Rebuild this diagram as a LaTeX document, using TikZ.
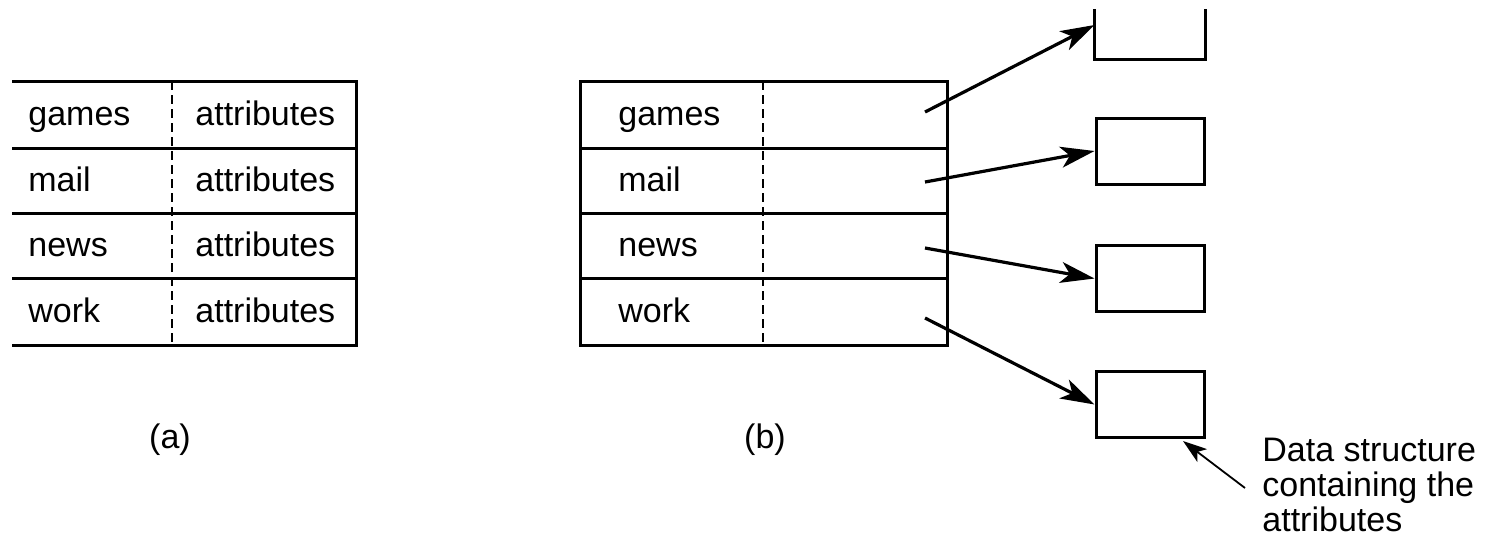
\documentclass[tikz,border=0pt]{standalone}
\usepackage{fontspec}
\setmainfont{Liberation Sans}
\usetikzlibrary{arrows.meta}

\begin{document}
\begin{tikzpicture}[x=0.5pt,y=-0.5pt,
  every node/.style={font=\fontsize{17}{17.5}\selectfont},
  txt/.style={anchor=base west,inner sep=0pt},
  rule/.style={line width=1.5pt},
  split/.style={line width=0.9pt,dash pattern=on 4.5pt off 2.5pt},
  slot/.style={draw,line width=1.5pt,minimum width=54pt,minimum height=33pt,inner sep=0pt},
  ptr/.style={-{Stealth[length=17pt,width=10.5pt,inset=4.5pt]},line width=1.6pt},
  thin/.style={-{Stealth[length=12pt,width=8pt,inset=3pt]},line width=0.9pt}]

  \useasboundingbox (0,0) rectangle (1487,543);

  % (a) directory with attributes in the entry
  \draw [rule] (12,81) -- (356,81) -- (356,345) -- (12,345);
  \draw [rule] (12,148) -- (356,148);
  \draw [rule] (12,213) -- (356,213);
  \draw [rule] (12,278) -- (356,278);
  \draw [split] (172,81) -- (172,345);

  \node [txt] (a1) at (28,125.5) {games};
  \node [txt] (a2) at (28,191.5) {mail};
  \node [txt] (a3) at (28,256.5) {news};
  \node [txt] (a4) at (28,322.5) {work};
  \node [txt] (t1) at (195,125.5) {attributes};
  \node [txt] (t2) at (195,191.5) {attributes};
  \node [txt] (t3) at (195,256.5) {attributes};
  \node [txt] (t4) at (195,322.5) {attributes};
  \node (la) at (170,440) {(a)};

  % (b) directory with pointers
  \draw [rule] (580,81) rectangle (947,345);
  \draw [rule] (580,148) -- (947,148);
  \draw [rule] (580,213) -- (947,213);
  \draw [rule] (580,278) -- (947,278);
  \draw [split] (763,81) -- (763,345);

  \node [txt] (b1) at (618,125.5) {games};
  \node [txt] (b2) at (618,191.5) {mail};
  \node [txt] (b3) at (618,256.5) {news};
  \node [txt] (b4) at (618,322.5) {work};
  \node (lb) at (765,440) {(b)};

  \coordinate (p1) at (925,112);
  \coordinate (p2) at (925,182);
  \coordinate (p3) at (925,248);
  \coordinate (p4) at (925,318);

  \node [slot,draw=none] (s1) at (1150,25) {};
  \node [slot] (s2) at (1150,151) {};
  \node [slot] (s3) at (1150,278.5) {};
  \node [slot] (s4) at (1150,404.5) {};
  \draw [rule] (s1.west |- 0,9) -- (s1.south west) -- (s1.south east) -- (s1.east |- 0,9);

  \draw [ptr] (p1) to (s1.west);
  \draw [ptr] (p2) to (s2.west);
  \draw [ptr] (p3) to (s3.west);
  \draw [ptr] (p4) to (s4.west);

  % note
  \node [anchor=north west,inner sep=0pt,align=left] (n) at (1262,438)
    {Data structure\\containing the\\attributes};
  \coordinate (nf) at (1245,488);
  \coordinate (nt) at (1183,441);
  \draw [thin] (nf) to (nt);

\end{tikzpicture}
\end{document}
